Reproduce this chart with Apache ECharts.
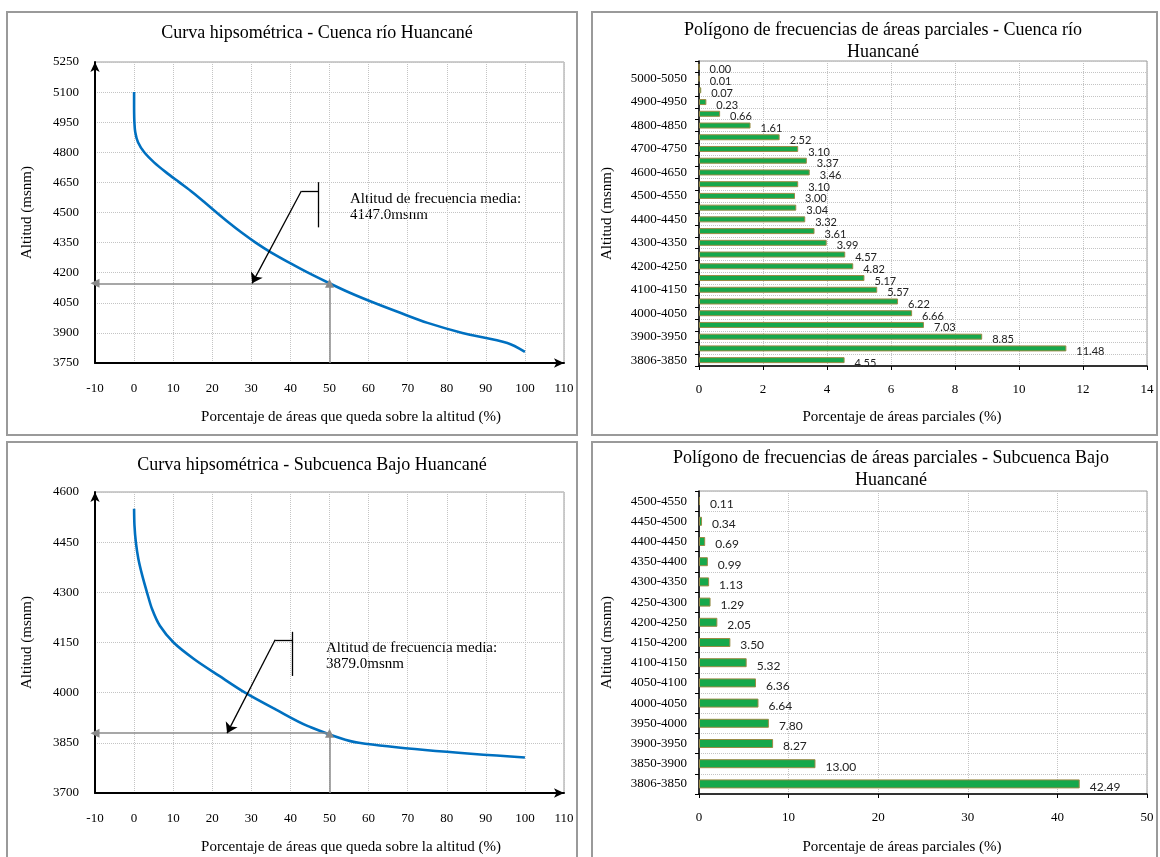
<!DOCTYPE html>
<html>
<head>
<meta charset="utf-8">
<script src="https://cdn.jsdelivr.net/npm/echarts@6/dist/echarts.min.js"></script>
<style>
html,body{margin:0;padding:0;background:#fff}
#main{width:1160px;height:857px}
</style>
</head>
<body>
<div id="main"></div>
<script>
// curva hipsometrica - cuenca rio Huancane (altitud vs % de area sobre la altitud)
var cuencaAlt = [5100,5050,5000,4950,4900,4850,4800,4750,4700,4650,4600,4550,4500,4450,4400,4350,4300,4250,4200,4150,4100,4050,4000,3950,3900,3850,3806];
var cuencaPct = [0,0,0.01,0.08,0.3,1.0,2.6,5.1,8.2,11.6,15.0,18.1,21.1,24.2,27.5,31.1,35.1,39.7,44.5,49.7,55.2,61.4,68.1,75.1,84.0,95.5,100];
var cuencaMedia = 4147.0;
// flecha de la anotacion: [x, y] en unidades del grafico
var cuencaBracket = [[47.1,4426],[47.1,4651]];
var cuencaPointer = [[47.1,4607],[42.8,4607],[30.2,4147]];

// curva hipsometrica - subcuenca Bajo Huancane
var bajoAlt = [4550,4500,4450,4400,4350,4300,4250,4200,4150,4100,4050,4000,3950,3900,3850,3806];
var bajoPct = [0,0.1,0.45,1.1,2.1,3.3,4.6,6.6,10.1,15.4,21.8,28.4,36.2,44.5,57.5,100];
var bajoMedia = 3879.0;
var bajoBracket = [[40.5,4050],[40.5,4182]];
var bajoPointer = [[40.5,4158],[36.1,4158],[23.8,3879]];

// poligono de frecuencias - cuenca
var cuencaRangos = ['3806-3850','3850-3900','3900-3950','3950-4000','4000-4050','4050-4100','4100-4150','4150-4200','4200-4250','4250-4300','4300-4350','4350-4400','4400-4450','4450-4500','4500-4550','4550-4600','4600-4650','4650-4700','4700-4750','4750-4800','4800-4850','4850-4900','4900-4950','4950-5000','5000-5050','5050-5100'];
var cuencaAreas = [4.55,11.48,8.85,7.03,6.66,6.22,5.57,5.17,4.82,4.57,3.99,3.61,3.32,3.04,3.00,3.10,3.46,3.37,3.10,2.52,1.61,0.66,0.23,0.07,0.01,0.00];

// poligono de frecuencias - subcuenca
var bajoRangos = ['3806-3850','3850-3900','3900-3950','3950-4000','4000-4050','4050-4100','4100-4150','4150-4200','4200-4250','4250-4300','4300-4350','4350-4400','4400-4450','4450-4500','4500-4550'];
var bajoAreas = [42.49,13.00,8.27,7.80,6.64,6.36,5.32,3.50,2.05,1.29,1.13,0.99,0.69,0.34,0.11];

var serif = '"Liberation Serif", "Times New Roman", serif';
var sans = 'Lato, "Liberation Sans", sans-serif';
var gridLine = {show:true, lineStyle:{color:'#c4c4c4', type:'dotted', width:1}};
var plain = function(v){ return String(v); };

function hypsoX(idx){
    return {
        gridIndex: idx, type:'value', min:-10, max:110, interval:10,
        axisLine:{onZero:false, symbol:['none','arrow'], symbolSize:[7,10], lineStyle:{color:'#000', width:2}},
        axisTick:{show:false},
        axisLabel:{color:'#000', fontFamily:serif, fontSize:13, margin:19, formatter:plain},
        splitLine: gridLine
    };
}
function hypsoY(idx, min, max){
    return {
        gridIndex: idx, type:'value', min:min, max:max, interval:150,
        name:'Altitud (msnm)', nameLocation:'middle', nameGap:60,
        nameTextStyle:{color:'#000', fontFamily:serif, fontSize:15},
        axisLine:{onZero:false, symbol:['none','arrow'], symbolSize:[7,10], lineStyle:{color:'#000', width:2}},
        axisTick:{show:false},
        axisLabel:{color:'#000', fontFamily:serif, fontSize:13, margin:16, formatter:plain},
        splitLine: gridLine
    };
}
function hypsoSeries(idx, alt, pct, yMin, media, bracket, pointer){
    var pts = pct.map(function(p,i){ return [p, alt[i]]; });
    var gray = {color:'#8a8a8a', width:1.5, type:'solid'};
    var black = {color:'#000', width:1.3, type:'solid'};
    return {
        type:'line', xAxisIndex:idx, yAxisIndex:idx, data:pts,
        smooth:0.3, symbol:'none', z:3,
        lineStyle:{color:'#0070C0', width:2.6},
        markLine:{
            silent:true, animation:false, label:{show:false}, symbolSize:9,
            data:[
                [{coord:[50,media], symbol:'none', lineStyle:gray}, {coord:[-10,media], symbol:'triangle'}],
                [{coord:[50,yMin], symbol:'none', lineStyle:gray}, {coord:[50,media], symbol:'triangle'}],
                [{coord:bracket[0], symbol:'none', lineStyle:black}, {coord:bracket[1], symbol:'none'}],
                [{coord:pointer[0], symbol:'none', lineStyle:black}, {coord:pointer[1], symbol:'none'}],
                [{coord:pointer[1], symbol:'none', lineStyle:black}, {coord:pointer[2], symbol:'arrow', symbolSize:10}]
            ]
        }
    };
}
function barX(idx, max, interval){
    return {
        gridIndex: idx, type:'value', min:0, max:max, interval:interval,
        axisLine:{show:true, lineStyle:{color:'#000', width:1.5}},
        axisTick:{show:true, length:4, lineStyle:{color:'#000'}},
        axisLabel:{color:'#000', fontFamily:serif, fontSize:13, margin:17},
        splitLine: gridLine
    };
}
function barY(idx, cats, labelInterval){
    return {
        gridIndex: idx, type:'category', data:cats,
        name:'Altitud (msnm)', nameLocation:'middle', nameGap:84,
        nameTextStyle:{color:'#000', fontFamily:serif, fontSize:15},
        axisLine:{show:true, lineStyle:{color:'#000', width:1.5}},
        axisTick:{show:true, length:4, interval:0, lineStyle:{color:'#000'}},
        axisLabel:{color:'#000', fontFamily:serif, fontSize:13, margin:12, interval:labelInterval},
        splitLine:{show:true, interval:0, lineStyle:{color:'#c4c4c4', type:'dotted', width:1}}
    };
}
function barSeries(idx, vals, width, fontSize){
    return {
        type:'bar', xAxisIndex:idx, yAxisIndex:idx, data:vals, barWidth:width,
        itemStyle:{color:'#16a84b', borderColor:'#9a8b45', borderWidth:1},
        label:{show:true, position:'right', distance:8, offset:[2,3], color:'#222',
            fontFamily:sans, fontSize:fontSize,
            formatter:function(p){ return p.value.toFixed(2); }}
    };
}
function txt(x, y, text, size, align){
    return {type:'text', silent:true, x:x, y:y, style:{text:text, fill:'#000',
        font:size+'px '+serif, textAlign:align||'center', textVerticalAlign:'middle'}};
}
function panel(x, y, w, h){
    return {type:'rect', silent:true, shape:{x:x, y:y, width:w, height:h},
        style:{fill:'none', stroke:'#9a9a9a', lineWidth:2}};
}

var option = {
    animation:false,
    backgroundColor:'#fff',
    grid:[
        {left:95, top:62, width:469, height:301, show:true, borderColor:'#9a9a9a', borderWidth:1},
        {left:699, top:61, width:448, height:305, show:true, borderColor:'#9a9a9a', borderWidth:1},
        {left:95, top:492, width:469, height:301, show:true, borderColor:'#9a9a9a', borderWidth:1},
        {left:699, top:491, width:448, height:303, show:true, borderColor:'#9a9a9a', borderWidth:1}
    ],
    xAxis:[hypsoX(0), barX(1, 14, 2), hypsoX(2), barX(3, 50, 10)],
    yAxis:[hypsoY(0, 3750, 5250), barY(1, cuencaRangos, 1), hypsoY(2, 3700, 4600), barY(3, bajoRangos, 0)],
    series:[
        hypsoSeries(0, cuencaAlt, cuencaPct, 3750, cuencaMedia, cuencaBracket, cuencaPointer),
        barSeries(1, cuencaAreas, 6, 11),
        hypsoSeries(2, bajoAlt, bajoPct, 3700, bajoMedia, bajoBracket, bajoPointer),
        barSeries(3, bajoAreas, 9, 12)
    ],
    graphic:[
        panel(7, 12, 570, 423), panel(592, 12, 565, 423),
        panel(7, 442, 570, 420), panel(592, 442, 565, 420),
        txt(317, 33, 'Curva hipsométrica - Cuenca río Huancané', 18),
        txt(883, 30, 'Polígono de frecuencias de áreas parciales - Cuenca río', 18),
        txt(883, 52, 'Huancané', 18),
        txt(312, 465, 'Curva hipsométrica - Subcuenca Bajo Huancané', 18),
        txt(891, 458, 'Polígono de frecuencias de áreas parciales - Subcuenca Bajo', 18),
        txt(891, 480, 'Huancané', 18),
        txt(351, 417, 'Porcentaje de áreas que queda sobre la altitud (%)', 15),
        txt(902, 417, 'Porcentaje de áreas parciales (%)', 15),
        txt(351, 847, 'Porcentaje de áreas que queda sobre la altitud (%)', 15),
        txt(902, 847, 'Porcentaje de áreas parciales (%)', 15),
        txt(350, 199, 'Altitud de frecuencia media:', 15, 'left'),
        txt(350, 215, cuencaMedia.toFixed(1) + 'msnm', 15, 'left'),
        txt(326, 648, 'Altitud de frecuencia media:', 15, 'left'),
        txt(326, 664, bajoMedia.toFixed(1) + 'msnm', 15, 'left')
    ]
};

var chart = echarts.init(document.getElementById('main'));
chart.setOption(option);
</script>
</body>
</html>
